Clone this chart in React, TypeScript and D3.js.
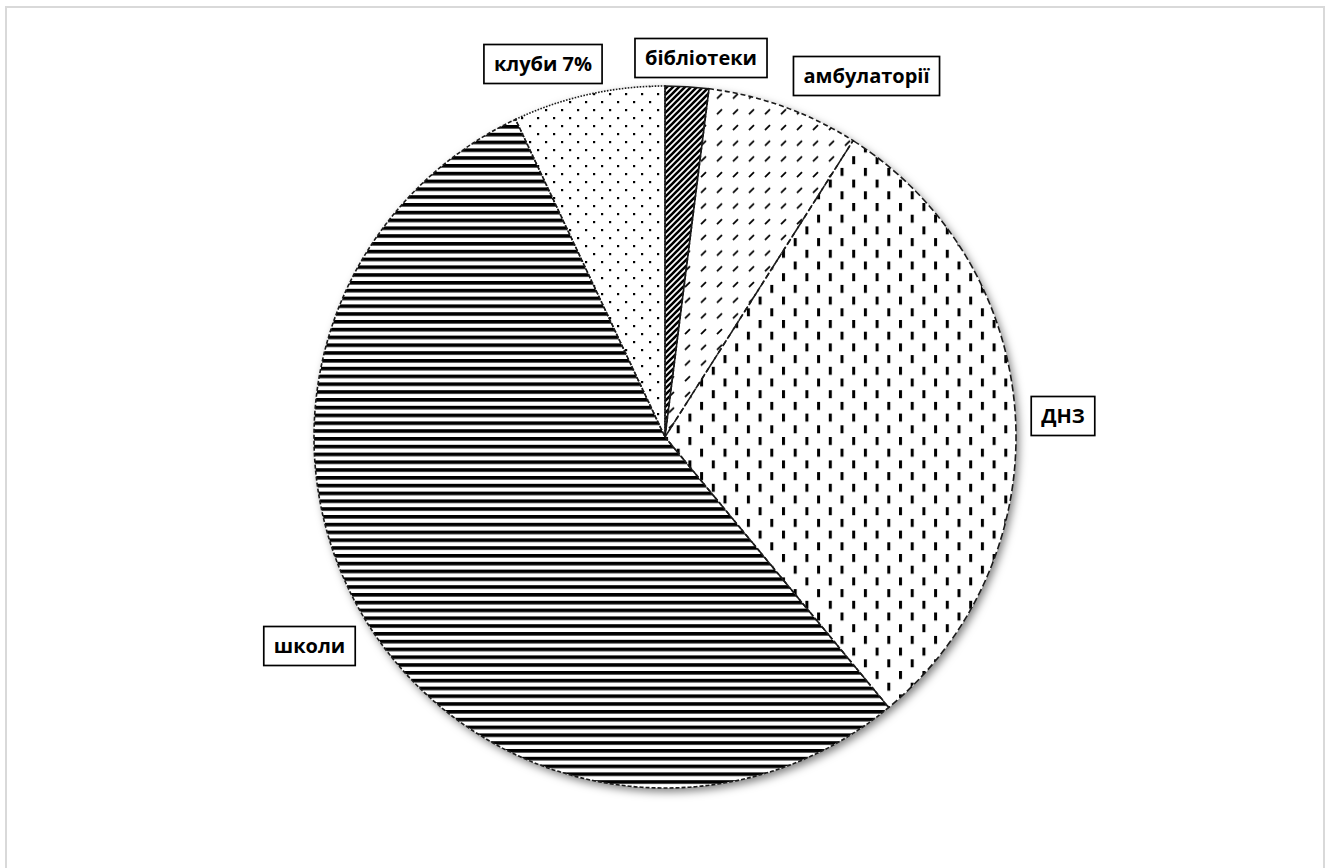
import React from "react";
import * as d3 from "d3";

// Share of facilities by type, percent, clockwise from 12 o'clock
const categories = ["бібліотеки", "амбулаторії", "ДНЗ", "школи", "клуби"];
const shares = [2, 7, 30, 54, 7];
const showPercent = [false, false, false, false, true];

// Visual styling per slice
const patternIds = ["p-lib", "p-amb", "p-dnz", "p-sch", "p-club"];
const edgeDash = ["none", "5 3", "7 3", "4 2", "1.6 1.4"];

// Label box centres, relative to the pie centre
const labelOffsets: [number, number][] = [
  [36, -379],
  [201.5, -361],
  [398, -21],
  [-355.5, 209],
  [-122, -373],
];

const W = 1326;
const H = 868;
const cx = 665;
const cy = 437;
const R = 351;
const FONT = "bold 20px 'Open Sans'";

function textWidth(s: string): number {
  const c = document.createElement("canvas").getContext("2d");
  if (!c) return s.length * 11;
  c.font = FONT;
  return c.measureText(s).width;
}

export default function App() {
  const pie = d3
    .pie<number>()
    .sort(null)
    .value((d) => d);
  const arcs = pie(shares);
  const arc = d3.arc<d3.PieArcDatum<number>>().innerRadius(0).outerRadius(R);

  return (
    <svg
      width={W}
      height={H}
      style={{ position: "absolute", left: 0, top: 0, background: "#fff" }}
    >
      <defs>
        <filter id="pieShadow" x="-10%" y="-10%" width="125%" height="125%">
          <feDropShadow dx="3" dy="4" stdDeviation="4" floodColor="#000" floodOpacity="0.5" />
        </filter>
        <pattern id="p-lib" patternUnits="userSpaceOnUse" width="6" height="6">
          <path d="M-1,1 l2,-2 M0,6 l6,-6 M5,7 l2,-2" stroke="#000" strokeWidth="2.6" />
        </pattern>
        <pattern id="p-amb" patternUnits="userSpaceOnUse" width="16" height="15.7">
          <path d="M4,7 L9,2" stroke="#000" strokeWidth="1.8" />
        </pattern>
        <pattern id="p-dnz" patternUnits="userSpaceOnUse" width="23.4" height="23.4">
          <rect x="0" y="0" width="3" height="8" fill="#000" />
          <rect x="11.7" y="11.7" width="3" height="8" fill="#000" />
        </pattern>
        <pattern id="p-sch" patternUnits="userSpaceOnUse" width="10" height="7.8">
          <rect x="0" y="0" width="10" height="3.6" fill="#000" />
        </pattern>
        <pattern id="p-club" patternUnits="userSpaceOnUse" width="16" height="16">
          <rect x="0" y="0" width="2.2" height="2.2" fill="#000" />
          <rect x="8" y="8" width="2.2" height="2.2" fill="#000" />
        </pattern>
      </defs>

      <rect x={6} y={7} width={1318} height={880} fill="#fff" stroke="#d9d9d9" strokeWidth={2} />

      <g transform={`translate(${cx},${cy})`}>
        <circle r={R} fill="#fff" filter="url(#pieShadow)" />
        {arcs.map((a, i) => (
          <path key={`f${i}`} d={arc(a) || ""} fill="#fff" />
        ))}
        {arcs.map((a, i) => (
          <path key={`p${i}`} d={arc(a) || ""} fill={`url(#${patternIds[i]})`} />
        ))}
        {arcs.map((a, i) => (
          <path
            key={`s${i}`}
            d={arc(a) || ""}
            fill="none"
            stroke="#1a1a1a"
            strokeWidth={1.6}
            strokeDasharray={edgeDash[i] === "none" ? undefined : edgeDash[i]}
          />
        ))}
      </g>

      {categories.map((name, i) => {
        const text = showPercent[i] ? `${name} ${shares[i]}%` : name;
        const w = textWidth(text) + 20;
        const h = 39;
        const x = cx + labelOffsets[i][0];
        const y = cy + labelOffsets[i][1];
        return (
          <g key={`l${i}`} transform={`translate(${x},${y})`}>
            <rect x={-w / 2} y={-h / 2} width={w} height={h} fill="#fff" stroke="#000" strokeWidth={1.7} />
            <text
              textAnchor="middle"
              dy="0.35em"
              style={{ font: FONT }}
              fill="#000"
            >
              {text}
            </text>
          </g>
        );
      })}
    </svg>
  );
}
